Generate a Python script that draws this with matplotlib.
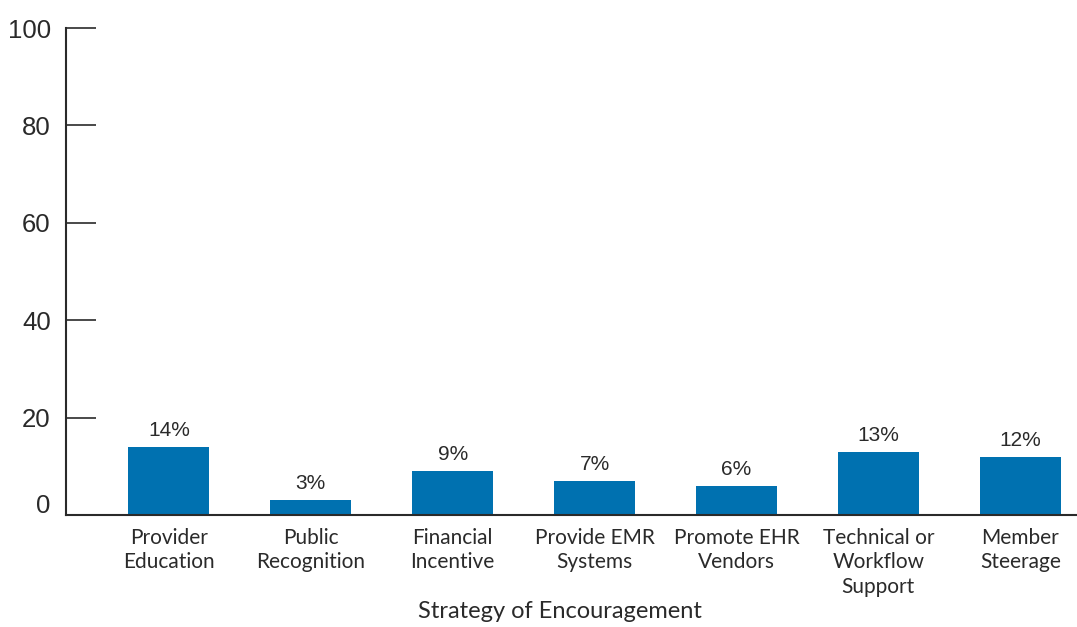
import matplotlib
matplotlib.use("Agg")
import matplotlib.pyplot as plt
from matplotlib.transforms import ScaledTranslation

categories = ["Provider\nEducation", "Public\nRecognition", "Financial\nIncentive",
              "Provide EMR\nSystems", "Promote EHR\nVendors", "Technical or\nWorkflow\nSupport",
              "Member\nSteerage"]
values = [14, 3, 9, 7, 6, 13, 12]
y_ticks = [0, 20, 40, 60, 80, 100]
x_title = "Strategy of Encouragement"

bar_color = "#0071B0"
ink = "#2a2a2a"

fig = plt.figure(figsize=(10.77, 6.27), dpi=100)
ax = fig.add_axes([0.0613, 0.1786, 0.9387, 0.7767])

x = list(range(len(categories)))
bars = ax.bar(x, values, width=0.57, color=bar_color, zorder=2)

for xi, v in zip(x, values):
    ax.annotate(f"{v}%", (xi, v), xytext=(0, 5), textcoords="offset points",
                ha="center", va="bottom", fontsize=15, color=ink,
                family="Liberation Sans")

ax.set_xlim(-0.725, 6.4)
ax.set_ylim(0, 100)

ax.set_yticks(y_ticks)
ax.set_yticklabels([str(t) for t in y_ticks], fontsize=18.5, color=ink,
                   family="Liberation Sans")
ax.tick_params(axis="y", direction="in", length=21.5, width=1.2, color=ink, pad=11)
# nudge the zero label up off the baseline
for lbl in ax.get_yticklabels():
    if lbl.get_text() == "0":
        lbl.set_transform(lbl.get_transform() + ScaledTranslation(0, 12 / 100, fig.dpi_scale_trans))

ax.set_xticks(x)
ax.set_xticklabels(categories, fontsize=15, color=ink, family="Lato",
                   linespacing=1.3)
ax.tick_params(axis="x", length=0, pad=9)

ax.set_xlabel(x_title, fontsize=17, color=ink, family="Lato", va="center")
ax.xaxis.set_label_coords(0.489, -0.199)

for side in ("top", "right"):
    ax.spines[side].set_visible(False)
for side in ("left", "bottom"):
    ax.spines[side].set_color(ink)
    ax.spines[side].set_linewidth(1.5)

fig.savefig("out.png", dpi=100)
